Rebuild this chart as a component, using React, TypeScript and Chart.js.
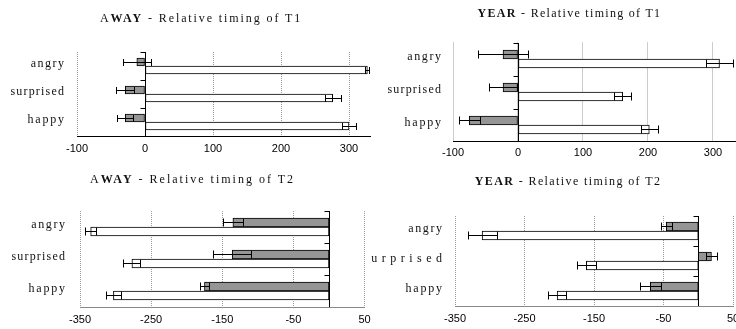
import React, { useEffect, useRef } from 'react';
import { Chart, registerables } from 'chart.js';

Chart.register(...registerables);

// ---------- data ----------
const categories = ['angry', 'surprised', 'happy'];

const t1Ticks = [-100, 0, 100, 200, 300];
const t2Ticks = [-350, -250, -150, -50, 50];

const awayT1Gray = [-12, -29, -29];
const awayT1GrayErr = [21, 13, 12];
const awayT1White = [327, 276, 300];
const awayT1WhiteErr = [3, 12, 10];

const yearT1Gray = [-23, -23, -75];
const yearT1GrayErr = [38, 22, 16];
const yearT1White = [310, 161, 202];
const yearT1WhiteErr = [21, 13, 13];

const awayT2Gray = [-135, -136, -175];
const awayT2GrayErr = [14, 27, 6];
const awayT2White = [-335, -277, -303];
const awayT2WhiteErr = [8, 12, 10];

const yearT2Gray = [-46, 19, -69];
const yearT2GrayErr = [8, 8, 15];
const yearT2White = [-311, -161, -203];
const yearT2WhiteErr = [21, 14, 13];

const awayT1Title = [['A', false], ['WAY', true], [' - Relative timing of T1', false]] as [string, boolean][];
const yearT1Title = [['YEAR', true], [' - Relative timing of T1', false]] as [string, boolean][];
const awayT2Title = [['A', false], ['WAY', true], [' - Relative timing of T2', false]] as [string, boolean][];
const yearT2Title = [['YEAR', true], [' - Relative timing of T2', false]] as [string, boolean][];

// ---------- panel layout ----------
type Panel = {
  left: number; top: number; width: number; height: number;
  area: { left: number; top: number; right: number; bottom: number };
  min: number; max: number; ticks: number[];
  gray: number[]; grayErr: number[]; white: number[]; whiteErr: number[];
  barThick: number; axisColor: string; tickPad: number;
  labelRight: number; labelSpacing: number[];
  title: [string, boolean][]; titleX: number; titleY: number; titleSpacing: number;
};

const panels: Panel[] = [
  {
    left: 0, top: 0, width: 371, height: 165,
    area: { left: 77, top: 52, right: 371, bottom: 136 },
    min: -100, max: 332.35, ticks: t1Ticks,
    gray: awayT1Gray, grayErr: awayT1GrayErr, white: awayT1White, whiteErr: awayT1WhiteErr,
    barThick: 8, axisColor: '#000', tickPad: 6,
    labelRight: 64, labelSpacing: [1.5, 1.2, 1.8],
    title: awayT1Title, titleX: 201, titleY: 17.5, titleSpacing: 1.9,
  },
  {
    left: 371, top: 0, width: 365, height: 165,
    area: { left: 82, top: 42.5, right: 365, bottom: 141.5 },
    min: -100, max: 335.4, ticks: t1Ticks,
    gray: yearT1Gray, grayErr: yearT1GrayErr, white: yearT1White, whiteErr: yearT1WhiteErr,
    barThick: 9, axisColor: '#000', tickPad: 5,
    labelRight: 70, labelSpacing: [1.6, 1.2, 1.8],
    title: yearT1Title, titleX: 198.5, titleY: 13, titleSpacing: 1.3,
  },
  {
    left: 0, top: 165, width: 371, height: 164,
    area: { left: 80, top: 46, right: 364.5, bottom: 142 },
    min: -350, max: 50, ticks: t2Ticks,
    gray: awayT2Gray, grayErr: awayT2GrayErr, white: awayT2White, whiteErr: awayT2WhiteErr,
    barThick: 9, axisColor: '#888', tickPad: 6,
    labelRight: 65, labelSpacing: [1.6, 1.2, 1.8],
    title: awayT2Title, titleX: 192.5, titleY: 14, titleSpacing: 2.0,
  },
  {
    left: 371, top: 165, width: 365, height: 164,
    area: { left: 84, top: 51, right: 362, bottom: 141 },
    min: -350, max: 50, ticks: t2Ticks,
    gray: yearT2Gray, grayErr: yearT2GrayErr, white: yearT2White, whiteErr: yearT2WhiteErr,
    barThick: 9, axisColor: '#888', tickPad: 6,
    labelRight: 71, labelSpacing: [1.6, 4.5, 1.8],
    title: yearT2Title, titleX: 197, titleY: 16, titleSpacing: 1.4,
  },
];

function makeDecorPlugin(p: Panel) {
  return {
    id: 'panelDecor',
    afterDatasetsDraw(chart: any) {
      const ctx = chart.ctx as CanvasRenderingContext2D;
      const xs = chart.scales.x;
      const ys = chart.scales.y;
      const { top, bottom } = chart.chartArea;
      ctx.save();
      ctx.strokeStyle = '#000';
      ctx.lineWidth = 1;
      // error bars
      chart.data.datasets.forEach((ds: any, di: number) => {
        const meta = chart.getDatasetMeta(di);
        const errs: number[] = ds.errorBars || [];
        meta.data.forEach((bar: any, i: number) => {
          const v = ds.data[i];
          const e = errs[i] || 0;
          const { y, height } = bar.getProps(['y', 'height'], true);
          const x1 = Math.round(xs.getPixelForValue(v - e)) + 0.5;
          const x2 = Math.round(xs.getPixelForValue(v + e)) + 0.5;
          const yy = Math.floor(y) + 0.5;
          const cap = height / 2 - 0.5;
          ctx.beginPath();
          ctx.moveTo(x1, yy);
          ctx.lineTo(x2, yy);
          ctx.moveTo(x1, yy - cap);
          ctx.lineTo(x1, yy + cap);
          ctx.moveTo(x2, yy - cap);
          ctx.lineTo(x2, yy + cap);
          ctx.stroke();
        });
      });
      // zero (category) axis with boundary ticks
      const x0 = Math.round(xs.getPixelForValue(0)) + 0.5;
      ctx.beginPath();
      ctx.moveTo(x0, Math.round(top));
      ctx.lineTo(x0, Math.round(bottom));
      const n = chart.data.labels.length;
      const step = (bottom - top) / n;
      for (let k = 0; k < n; k++) {
        const yy = Math.round(top + k * step) + 0.5;
        ctx.moveTo(x0 - 5, yy);
        ctx.lineTo(x0, yy);
      }
      ctx.stroke();
      // category labels
      ctx.fillStyle = '#111';
      ctx.font = '12px "Liberation Serif", "Times New Roman", serif';
      ctx.textAlign = 'right';
      ctx.textBaseline = 'alphabetic';
      (chart.data.labels as string[]).forEach((lab, i) => {
        const sp = p.labelSpacing[i] || 0;
        (ctx as any).letterSpacing = sp + 'px';
        const yc = ys.getPixelForValue(i);
        ctx.fillText(lab, p.labelRight + sp, yc + 1);
      });
      (ctx as any).letterSpacing = '0px';
      ctx.restore();
    },
  };
}

function PanelChart({ p }: { p: Panel }) {
  const ref = useRef<HTMLCanvasElement | null>(null);
  useEffect(() => {
    if (!ref.current) return;
    const chart = new Chart(ref.current, {
      type: 'bar',
      data: {
        labels: categories,
        datasets: [
          {
            data: p.gray,
            errorBars: p.grayErr,
            backgroundColor: '#959595',
            borderColor: '#000',
            borderWidth: 1,
            borderSkipped: false,
            barThickness: p.barThick,
          } as any,
          {
            data: p.white,
            errorBars: p.whiteErr,
            backgroundColor: '#fff',
            borderColor: '#000',
            borderWidth: 1,
            borderSkipped: false,
            barThickness: p.barThick,
          } as any,
        ],
      },
      options: {
        indexAxis: 'y',
        animation: false,
        responsive: false,
        devicePixelRatio: 1,
        layout: {
          padding: {
            left: p.area.left,
            top: p.area.top,
            right: p.width - p.area.right,
            bottom: 0,
          },
        },
        plugins: {
          legend: { display: false },
          tooltip: { enabled: false },
          title: { display: false },
        },
        scales: {
          x: {
            type: 'linear',
            min: p.min,
            max: p.max,
            afterBuildTicks: (s: any) => {
              s.ticks = p.ticks.map((v) => ({ value: v }));
            },
            afterFit: (s: any) => {
              s.height = p.height - p.area.bottom;
              s.paddingLeft = 0;
              s.paddingRight = 0;
            },
            grid: {
              color: '#9a9a9a',
              lineWidth: 1,
              drawTicks: false,
            },
            border: { display: true, color: p.axisColor, width: 1, dash: [1, 1] },
            ticks: {
              color: '#000',
              font: { family: '"Liberation Sans", Arial, sans-serif', size: 11 },
              padding: p.tickPad,
              autoSkip: false,
              maxRotation: 0,
            },
          },
          y: {
            display: false,
            afterFit: (s: any) => {
              s.width = 0;
            },
          },
        },
      } as any,
      plugins: [makeDecorPlugin(p)],
    });
    return () => chart.destroy();
  }, [p]);

  return (
    <div style={{ position: 'absolute', left: p.left, top: p.top, width: p.width, height: p.height, overflow: 'hidden' }}>
      <canvas ref={ref} width={p.width} height={p.height} style={{ display: 'block', width: p.width, height: p.height }} />
      <div
        style={{
          position: 'absolute',
          left: p.titleX,
          top: p.titleY,
          transform: 'translate(-50%, -50%)',
          whiteSpace: 'pre',
          fontFamily: '"Liberation Serif", "Times New Roman", serif',
          fontSize: 12,
          letterSpacing: p.titleSpacing,
          color: '#111',
          lineHeight: '14px',
        }}
      >
        {p.title.map(([t, b], i) => (
          <span key={i} style={{ fontWeight: b ? 'bold' : 'normal' }}>{t}</span>
        ))}
      </div>
    </div>
  );
}

export default function App() {
  return (
    <div style={{ position: 'absolute', left: 0, top: 0, width: 736, height: 329, background: '#fff', overflow: 'hidden' }}>
      {panels.map((p, i) => (
        <PanelChart key={i} p={p} />
      ))}
    </div>
  );
}
